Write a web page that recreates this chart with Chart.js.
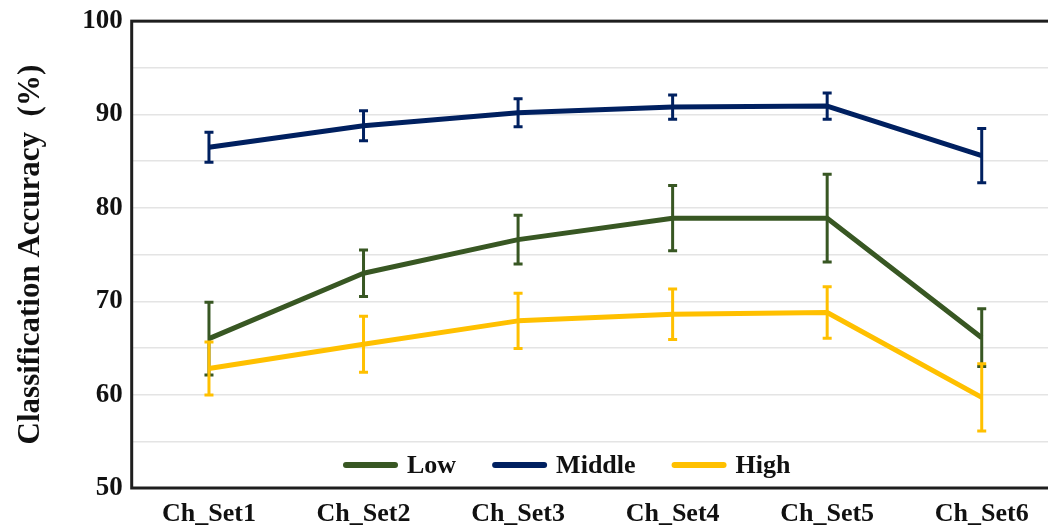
<!DOCTYPE html>
<html>
<head>
<meta charset="utf-8">
<script src="https://cdn.jsdelivr.net/npm/chart.js@4/dist/chart.umd.min.js"></script>
<style>
    html, body { margin: 0; padding: 0; background: #fff; overflow: hidden; }
    #wrap { position: absolute; left: 0; top: 0; width: 1060px; height: 528px; }
</style>
</head>
<body>
<div id="wrap"><canvas id="graph-accuracy"></canvas></div>
<script>
// values (mean and +/- error per channel set)
const categories = ['Ch_Set1', 'Ch_Set2', 'Ch_Set3', 'Ch_Set4', 'Ch_Set5', 'Ch_Set6'];
const lowMean = [66.0, 73.0, 76.6, 78.9, 78.9, 66.1];
const lowErr = [3.9, 2.5, 2.6, 3.5, 4.7, 3.1];
const middleMean = [86.5, 88.8, 90.2, 90.8, 90.9, 85.6];
const middleErr = [1.6, 1.6, 1.5, 1.3, 1.4, 2.9];
const highMean = [62.8, 65.4, 67.9, 68.6, 68.8, 59.7];
const highErr = [2.85, 3.0, 2.95, 2.7, 2.75, 3.6];
const yTicks = [50, 60, 70, 80, 90, 100];

const serif = "'Liberation Serif', 'Times New Roman', serif";
const ink = '#111111';

// error bars, drawn right after each line so the layering stays the same
const errorBars = {
    id: 'errorBars',
    afterDatasetDraw(chart, args) {
        const ds = chart.data.datasets[args.index];
        if (!ds.errors) return;
        const ctx = chart.ctx;
        const y = chart.scales.y;
        ctx.save();
        ctx.strokeStyle = ds.borderColor;
        ctx.lineWidth = 3;
        args.meta.data.forEach((pt, i) => {
            const top = y.getPixelForValue(ds.data[i] + ds.errors[i]);
            const bot = y.getPixelForValue(ds.data[i] - ds.errors[i]);
            ctx.beginPath();
            ctx.moveTo(pt.x, top);
            ctx.lineTo(pt.x, bot);
            ctx.moveTo(pt.x - 4.5, top);
            ctx.lineTo(pt.x + 4.5, top);
            ctx.moveTo(pt.x - 4.5, bot);
            ctx.lineTo(pt.x + 4.5, bot);
            ctx.stroke();
        });
        ctx.restore();
    }
};

// black frame round the plot area
const frame = {
    id: 'frame',
    beforeDatasetsDraw(chart) {
        const a = chart.chartArea;
        const ctx = chart.ctx;
        ctx.save();
        ctx.strokeStyle = '#1e1e1e';
        ctx.lineWidth = 3;
        ctx.strokeRect(a.left, a.top, a.right - a.left, a.bottom - a.top);
        ctx.restore();
    }
};

// legend sits inside the plot, near the bottom
const innerLegend = {
    id: 'innerLegend',
    afterDraw(chart) {
        const ctx = chart.ctx;
        let x = 343;
        const y = 465;
        ctx.save();
        ctx.font = 'bold 26px ' + serif;
        ctx.textBaseline = 'middle';
        ctx.fillStyle = ink;
        chart.data.datasets.forEach(ds => {
            ctx.strokeStyle = ds.borderColor;
            ctx.lineWidth = 6;
            ctx.lineCap = 'round';
            ctx.beginPath();
            ctx.moveTo(x + 3, y);
            ctx.lineTo(x + 52, y);
            ctx.stroke();
            x += 64;
            ctx.fillText(ds.label, x, y + 1);
            x += ctx.measureText(ds.label).width + 36;
        });
        ctx.restore();
    }
};

const ctx = document.getElementById('graph-accuracy').getContext('2d');
const chart = new Chart(ctx, {
    type: 'line',
    data: {
        labels: categories,
        datasets: [{
            label: 'Low',
            data: lowMean,
            errors: lowErr,
            borderColor: '#385723',
            order: 2
        },
        {
            label: 'Middle',
            data: middleMean,
            errors: middleErr,
            borderColor: '#002060',
            order: 1
        },
        {
            label: 'High',
            data: highMean,
            errors: highErr,
            borderColor: '#FFC000',
            order: 0
        }]
    },
    options: {
        responsive: true,
        maintainAspectRatio: false,
        animation: false,
        layout: {
            padding: { left: 12, top: 17, right: 1, bottom: 0 }
        },
        elements: {
            line: { borderWidth: 5, tension: 0, fill: false, borderJoinStyle: 'round' },
            point: { radius: 0, hoverRadius: 0 }
        },
        plugins: {
            legend: { display: false },
            tooltip: { enabled: false }
        },
        scales: {
            x: {
                type: 'category',
                offset: true,
                grid: { display: false, drawTicks: false },
                border: { display: false },
                ticks: {
                    color: ink,
                    font: { family: serif, size: 26, weight: 'bold' },
                    padding: 11,
                    maxRotation: 0,
                    autoSkip: false
                },
                afterFit: scale => { scale.height = 40; }
            },
            y: {
                min: 50,
                max: 100,
                grid: { color: '#e4e4e4', lineWidth: 1.5, drawTicks: false },
                border: { display: false },
                ticks: {
                    stepSize: 5,
                    color: ink,
                    font: { family: serif, size: 27, weight: 'bold', lineHeight: 0.9 },
                    padding: 9,
                    callback: v => yTicks.includes(v) ? v : ''
                },
                title: {
                    display: true,
                    text: 'Classification Accuracy  (%)',
                    color: ink,
                    font: { family: serif, size: 31, weight: 'bold' },
                    padding: { top: 0, bottom: 0 }
                },
                afterFit: scale => { scale.width = 119.7; }
            }
        }
    },
    plugins: [frame, errorBars, innerLegend]
});
</script>
</body>
</html>
